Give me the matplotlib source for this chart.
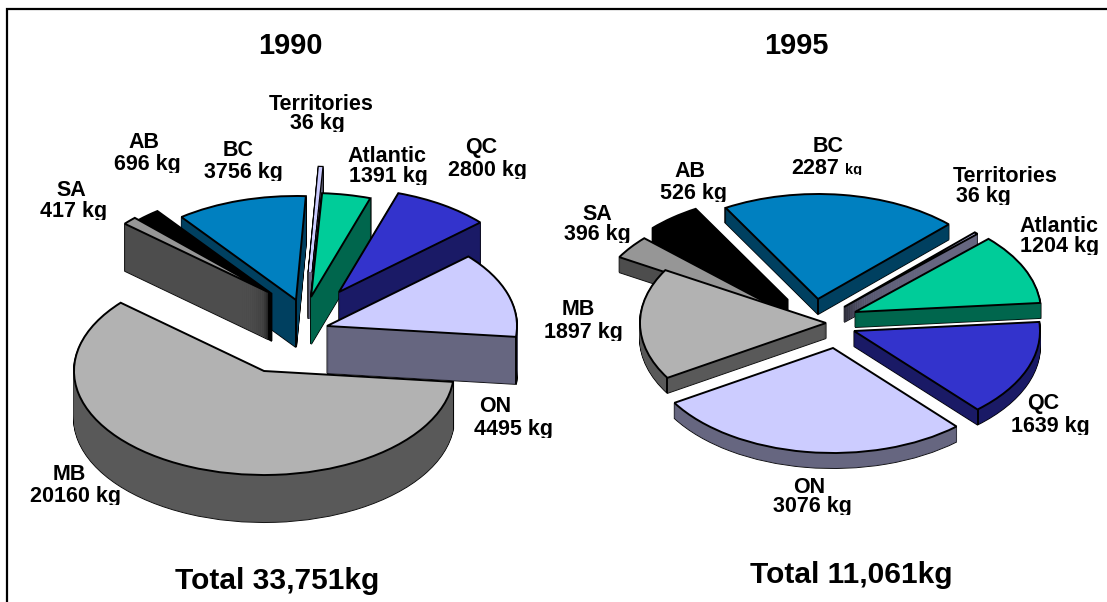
import matplotlib
matplotlib.use("Agg")
import matplotlib.pyplot as plt
from matplotlib.patches import Wedge
from matplotlib.transforms import Affine2D, Bbox, TransformedBbox
import numpy as np

plt.rcParams["font.family"] = ["Liberation Sans", "DejaVu Sans"]

regions = ["ON", "QC", "Atlantic", "Territories", "BC", "AB", "SA", "MB"]
values_1990 = [4495, 2800, 1391, 36, 3756, 696, 417, 20160]
values_1995 = [3076, 1639, 1204, 36, 2287, 526, 396, 1897]
total_1990 = "Total 33,751kg"
total_1995 = "Total 11,061kg"

top_colors = ["#CCCCFF", "#3333CC", "#00CC99", "#CCCCFF", "#0080C0", "#000000", "#969696", "#B2B2B2"]
wall_colors = ["#666680", "#1A1A66", "#00664D", "#666680", "#004060", "#000000", "#4D4D4D", "#595959"]

# where each exploded slice has its tip
tips_1990 = [(327, 326), (339, 292), (311, 297), (310, 272), (296, 300), (272, 294), (268, 292), (264, 371)]
tips_1995 = [(833, 348), (854, 331), (855, 312), (844, 307), (818, 299), (788, 300), (780, 310), (826, 323)]

# label anchors: name x, name baseline, value x, value baseline
labels_1990 = [(495, 412, 513, 435), (481, 153, 488, 176), (387, 162, 388, 182), (321, 110, 317, 129),
               (238, 156, 243, 178), (144, 148, 147, 170), (71, 196, 74, 217), (69, 480, 76, 502)]
labels_1995 = [(809, 493, 812, 512), (1043, 409, 1050, 432), (1059, 232, 1060, 252), (1005, 182, 983, 202),
               (828, 152, 818, 174), (690, 177, 693, 199), (597, 220, 597, 240), (578, 315, 583, 338)]


def draw_slice(ax, tip, theta1, theta2, rx, ry, depth, top, wall, z):
    def face(dy, **kw):
        tr = Affine2D().scale(rx, -ry).translate(tip[0], tip[1] + dy) + ax.transData
        ax.add_patch(Wedge((0, 0), 1, theta1, theta2, transform=tr, zorder=z, **kw))

    # very thin slices would be all outline, so they get a wider stroke in their own colour
    thin = theta2 - theta1 < 1.0
    outline = 3.4 if thin else 1.4

    # outline of the extruded body, then the wall fill over it
    for dy in range(depth, 0, -1):
        face(dy, facecolor="black", edgecolor="black", linewidth=outline)
    for dy in range(depth, 0, -1):
        face(dy, facecolor=wall, edgecolor=wall, linewidth=1.8 if thin else 0.3)

    # creases between the visible cut faces and the rim
    t1, t2 = np.radians(theta1), np.radians(theta2)
    creases = []
    if np.cos(t1) > 0 and np.cos(t2) < 0:
        creases.append((0.0, 0.0))
    if np.cos(t1) > 0 and np.sin(t1) < 0:
        creases.append((rx * np.cos(t1), -ry * np.sin(t1)))
    if np.cos(t2) < 0 and np.sin(t2) < 0:
        creases.append((rx * np.cos(t2), -ry * np.sin(t2)))
    for dx, dy in creases:
        ax.plot([tip[0] + dx] * 2, [tip[1] + dy, tip[1] + dy + depth], color="black", lw=1.4,
                zorder=z, solid_capstyle="butt")

    face(0, facecolor=top, edgecolor="black", linewidth=outline)
    if thin:
        face(0, facecolor=top, edgecolor=top, linewidth=1.6)


def draw_pie(ax, values, tips, start, rx, ry, depth, order, z0):
    angles = np.array(values) / sum(values) * 360.0
    edges = start + np.concatenate(([0.0], np.cumsum(angles)))
    for i, name in enumerate(order):
        k = regions.index(name)
        draw_slice(ax, tips[k], edges[k], edges[k + 1], rx, ry, depth,
                   top_colors[k], wall_colors[k], z0 + i)


def clipped_text(ax, x, y, s, size, drop=2.5):
    # the value lines lose the bottom of their descenders
    t = ax.text(x, y, s, ha="center", va="baseline", fontsize=size, fontweight="bold", zorder=50)
    box = Bbox([[x - 140, y - 40], [x + 140, y + drop]])
    t.set_clip_box(TransformedBbox(box, ax.transData))
    t.set_clip_on(True)


def draw_labels(ax, values, anchors):
    for name, value, (nx, ny, vx, vy) in zip(regions, values, anchors):
        ax.text(nx, ny, name, ha="center", va="baseline", fontsize=15.5, fontweight="bold", zorder=50)
        if name == "BC" and value == 2287:
            clipped_text(ax, vx - 3, vy, str(value), 15.5)
            clipped_text(ax, vx + 36, vy, "kg", 10.5, drop=0.5)
        else:
            clipped_text(ax, vx, vy, f"{value} kg", 15.5)


fig = plt.figure(figsize=(11.07, 6.02), dpi=100)
ax = fig.add_axes([0, 0, 1, 1])
ax.set_xlim(0, 1107)
ax.set_ylim(602, 0)
ax.axis("off")

# panel border, open on the right and at the bottom
ax.plot([7, 7, 1107], [602, 9, 9], color="black", lw=1.6, solid_joinstyle="miter")

draw_pie(ax, values_1990, tips_1990, -6, 190, 104, 47,
         ["BC", "Territories", "Atlantic", "QC", "AB", "SA", "ON", "MB"], 10)
draw_pie(ax, values_1995, tips_1995, 211.5, 186, 105, 15,
         ["BC", "Territories", "Atlantic", "AB", "SA", "MB", "QC", "ON"], 20)

draw_labels(ax, values_1990, labels_1990)
draw_labels(ax, values_1995, labels_1995)

ax.text(290, 54, "1990", ha="center", va="baseline", fontsize=20.8, fontweight="bold")
ax.text(796, 54, "1995", ha="center", va="baseline", fontsize=20.8, fontweight="bold")
clipped_text(ax, 277, 589, total_1990, 21.5, drop=6)
ax.text(851, 583, total_1995, ha="center", va="baseline", fontsize=21.5, fontweight="bold")

fig.savefig("out.png", dpi=100)
plt.close(fig)
